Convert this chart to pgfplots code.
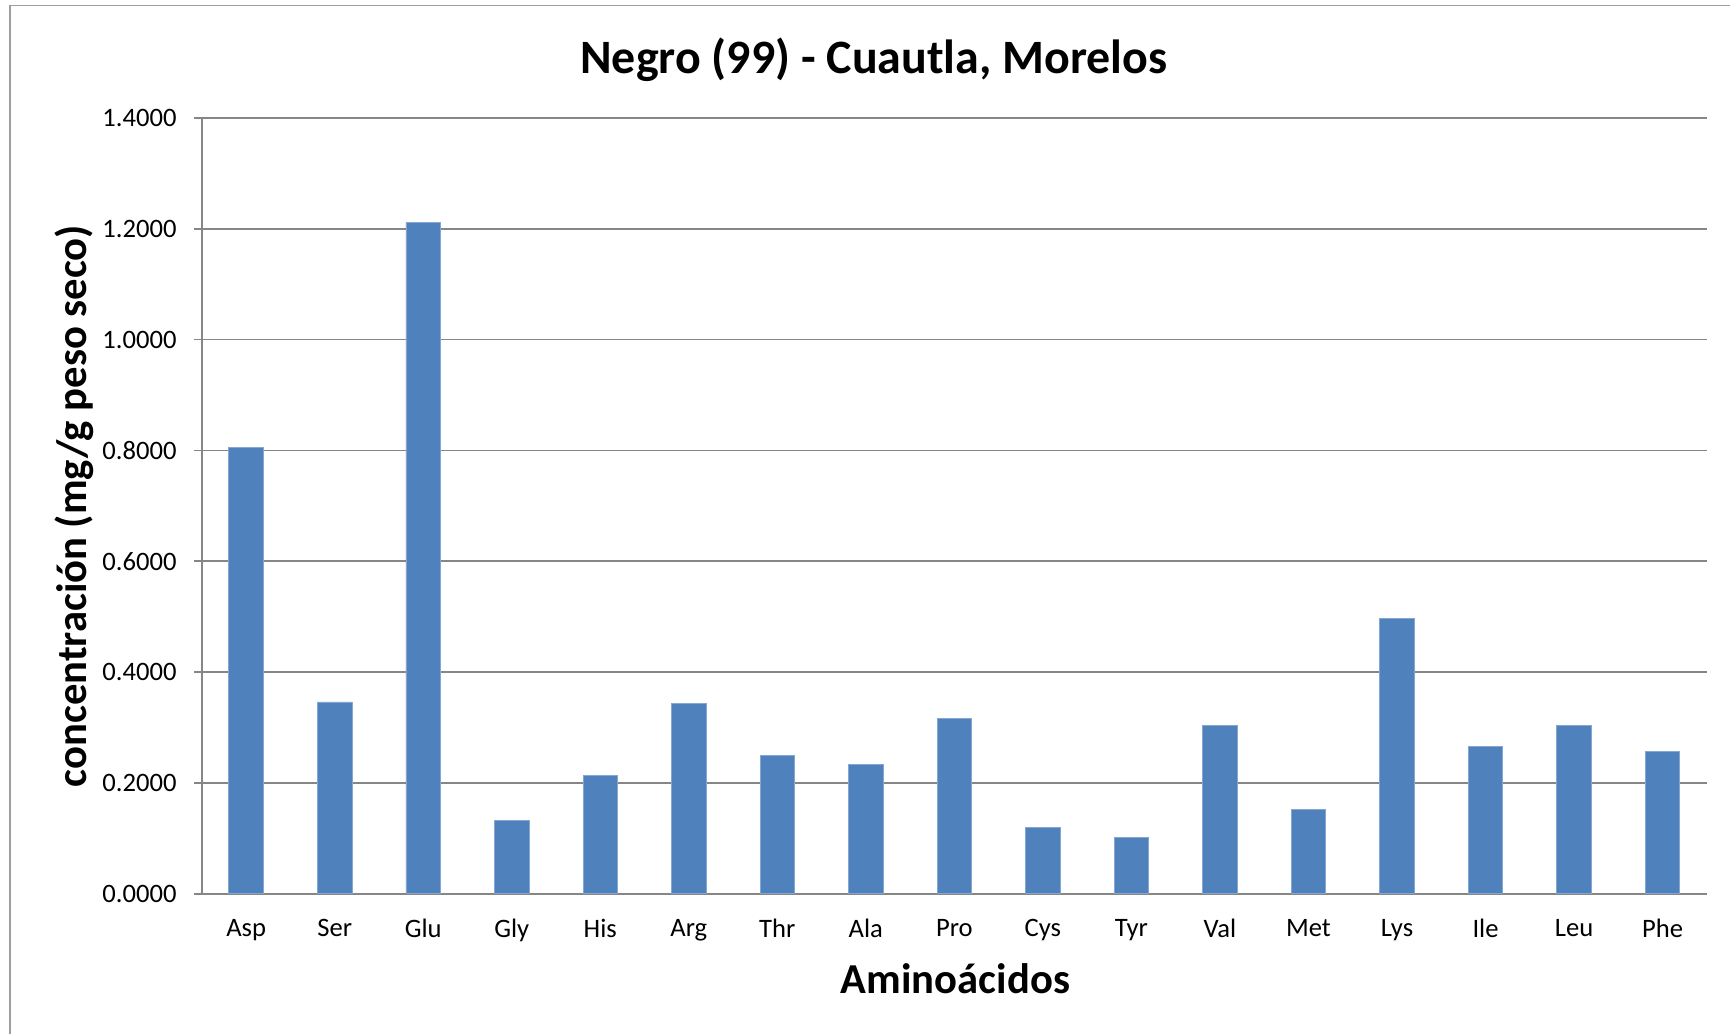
\documentclass[border=0pt]{standalone}
\usepackage{fontspec}
\setmainfont{Carlito}
\usepackage{pgfplots}
\pgfplotsset{compat=1.18}
\definecolor{barblue}{RGB}{79,129,189}
\definecolor{gridgray}{RGB}{134,134,134}
\begin{document}
\begin{tikzpicture}
% 1 px of the 1568x937 reference = 0.5bp
\useasboundingbox (0,0) rectangle (784bp,468.5bp);
\draw[gridgray!80, line width=0.8bp] (4.5bp,-2bp) rectangle (790bp,466bp);
\node[font=\bfseries\fontsize{21.8}{26}\selectfont] at (396bp,441.5bp) {Negro (99) - Cuautla, Morelos};
\node[font=\bfseries\fontsize{19.4}{23}\selectfont] at (433bp,25bp) {Aminoácidos};
\node[font=\bfseries\fontsize{19.4}{23}\selectfont, rotate=90] at (33.5bp,239bp) {concentración (mg/g peso seco)};
\begin{axis}[
    at={(91.5bp,63.5bp)}, anchor=south west,
    scale only axis,
    width=682bp, height=351.5bp,
    xmin=-0.5, xmax=16.5,
    ymin=0, ymax=1.4,
    axis lines=left,
    axis line style={-, gridgray, line width=0.75bp},
    ymajorgrids,
    grid style={gridgray, line width=0.75bp},
    ytick={0,0.2,...,1.4},
    xtick={0,...,16},
    xticklabels={Asp,Ser,Glu,Gly,His,Arg,Thr,Ala,Pro,Cys,Tyr,Val,Met,Lys,Ile,Leu,Phe},
    minor xtick={-0.5,0.5,...,16.5},
    tick align=outside,
    xtick style={draw=none},
    minor x tick style={gridgray, line width=0.75bp},
    minor tick length=4bp,
    ytick style={gridgray, line width=0.75bp},
    major tick length=3.5bp,
    /pgf/number format/fixed,
    /pgf/number format/fixed zerofill,
    /pgf/number format/precision=4,
    /pgf/number format/assume math mode=true,
    ticklabel style={font=\fontsize{12.1}{14}\selectfont},
    xticklabel style={yshift=-4.5bp},
    yticklabel style={xshift=-4.5bp},
    bar width=0.39,
]
\addplot[ybar, fill=barblue, draw=barblue!70!white, line width=0.4bp] coordinates {
    (0,0.806) (1,0.346) (2,1.211) (3,0.133) (4,0.213) (5,0.343)
    (6,0.249) (7,0.233) (8,0.316) (9,0.119) (10,0.102) (11,0.303)
    (12,0.152) (13,0.496) (14,0.266) (15,0.303) (16,0.256)
};
\end{axis}
\end{tikzpicture}
\end{document}
